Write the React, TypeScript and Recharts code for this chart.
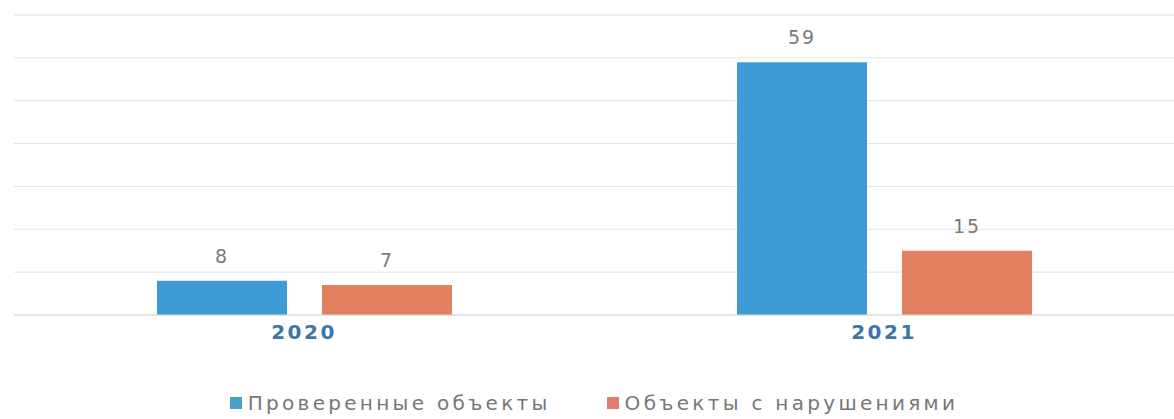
import { BarChart, Bar, XAxis, YAxis, CartesianGrid, Legend, LabelList } from 'recharts'

const YEARS = ['2020', '2021']
const CHECKED = [8, 59]
const VIOLATIONS = [7, 15]
const Y_TICKS = [0, 10, 20, 30, 40, 50, 60, 70]

const SERIES = [
  { key: 'checked', name: 'Проверенные объекты', fill: '#3e9bd6', icon: '#4a9fcf' },
  { key: 'violations', name: 'Объекты с нарушениями', fill: '#e2805f', icon: '#e07d74' },
]

const data = YEARS.map((year, i) => ({
  year,
  checked: CHECKED[i],
  violations: VIOLATIONS[i],
}))

const FONT = '"DejaVu Sans", "Open Sans", sans-serif'

function LegendContent() {
  return (
    <div style={{ display: 'flex', justifyContent: 'center', gap: 56, paddingTop: 17, paddingLeft: 0, fontFamily: FONT }}>
      {SERIES.map((s) => (
        <div key={s.key} style={{ display: 'flex', alignItems: 'center' }}>
          <span style={{ width: 12, height: 12, background: s.icon, display: 'inline-block', marginRight: 6 }} />
          <span style={{ fontSize: 20, lineHeight: '22px', color: '#777', letterSpacing: 3.3 }}>{s.name}</span>
        </div>
      ))}
    </div>
  )
}

export default function App() {
  return (
    <div style={{ position: 'absolute', left: 0, top: 0, background: '#fff', fontFamily: FONT }}>
      <BarChart
        width={1174}
        height={419}
        data={data}
        margin={{ top: 15, right: 0, bottom: 0, left: 14 }}
        barCategoryGap="24.6%"
        barGap={35}
      >
        <CartesianGrid vertical={false} stroke="#e3e3e3" />
        <XAxis
          dataKey="year"
          axisLine={{ stroke: '#d9d9d9' }}
          tickLine={false}
          height={60}
          tickMargin={4}
          tick={{ fill: '#3b76ad', fontSize: 20, fontWeight: 700, fontFamily: FONT, letterSpacing: 2.5 }}
        />
        <YAxis hide domain={[0, 70]} ticks={Y_TICKS} />
        <Legend verticalAlign="bottom" height={44} content={<LegendContent />} />
        {SERIES.map((s) => (
          <Bar key={s.key} dataKey={s.key} name={s.name} fill={s.fill} barSize={130} isAnimationActive={false}>
            <LabelList
              dataKey={s.key}
              position="top"
              offset={18}
              fill="#7a7a7a"
              fontSize={19}
              fontFamily={FONT}
              letterSpacing={2}
            />
          </Bar>
        ))}
      </BarChart>
    </div>
  )
}
